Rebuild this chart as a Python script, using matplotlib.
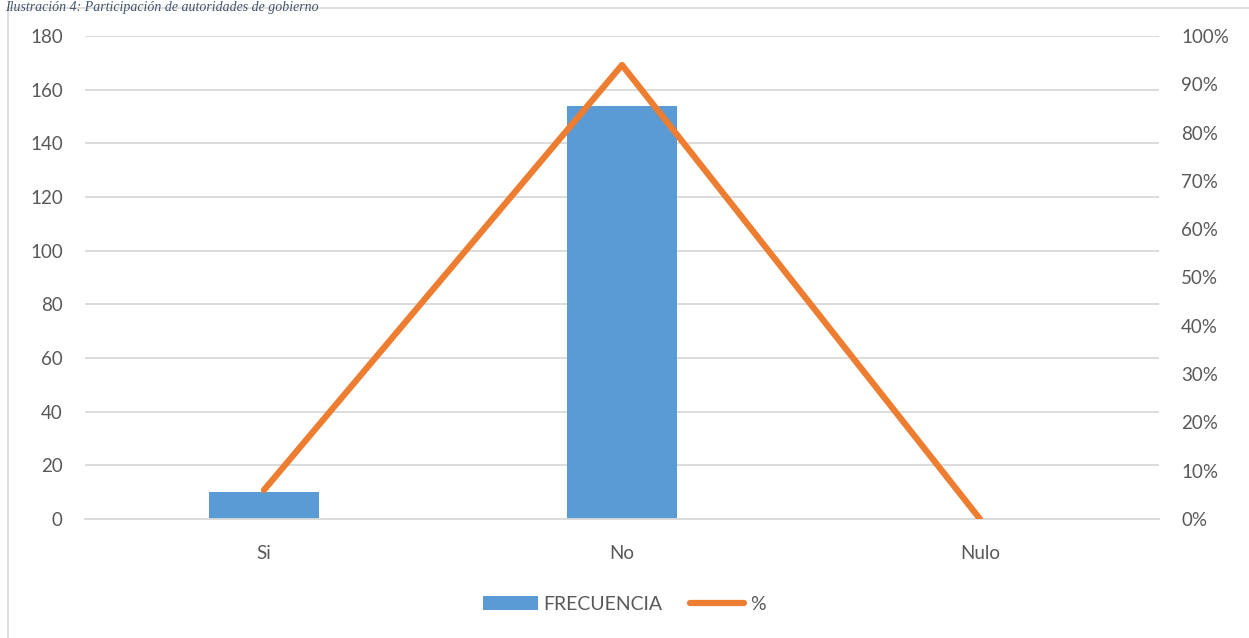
import matplotlib
matplotlib.use("Agg")
import matplotlib.pyplot as plt
from matplotlib.lines import Line2D
from matplotlib.patches import Patch

categories = ["Si", "No", "Nulo"]
frecuencia = [10, 154, 0]
porcentaje = [0.06, 0.94, 0.0]
left_ticks = [0, 20, 40, 60, 80, 100, 120, 140, 160, 180]
right_ticks = [0, 0.1, 0.2, 0.3, 0.4, 0.5, 0.6, 0.7, 0.8, 0.9, 1.0]
right_labels = ["0%", "10%", "20%", "30%", "40%", "50%", "60%", "70%", "80%", "90%", "100%"]

plt.rcParams['font.family'] = ['Lato', 'DejaVu Sans']
BLUE = "#5B9BD5"
ORANGE = "#ED7D31"
TXT = "#595959"
GRID = "#D9D9D9"
FS = 13.5

fig = plt.figure(figsize=(12.49, 6.38), dpi=100)
ax = fig.add_axes([85/1249, 1-519/638, (1159-85)/1249, (519-36)/638])

x = list(range(len(categories)))
ax.bar(x, frecuencia, width=0.31, color=BLUE, zorder=2)
ax.set_xlim(-0.5, 2.5)
ax.set_ylim(0, 180)
ax.set_yticks(left_ticks)
ax.set_yticklabels([str(t) for t in left_ticks])
ax.set_xticks(x)
ax.set_xticklabels(categories)
ax.grid(axis='y', color=GRID, linewidth=1.3, zorder=0)
ax.set_axisbelow(True)
for s in ax.spines.values():
    s.set_visible(False)
ax.spines['bottom'].set_visible(True)
ax.spines['bottom'].set_color(GRID)
ax.spines['bottom'].set_linewidth(1.3)
ax.tick_params(axis='both', length=0, labelsize=FS, colors=TXT)
ax.tick_params(axis='y', pad=16)
ax.tick_params(axis='x', pad=19)

ax2 = ax.twinx()
ax2.plot(x, porcentaje, color=ORANGE, linewidth=4.5, solid_capstyle='round', zorder=3)
ax2.set_ylim(0, 1.0)
ax2.set_yticks(right_ticks)
ax2.set_yticklabels(right_labels)
for s in ax2.spines.values():
    s.set_visible(False)
ax2.tick_params(axis='y', length=0, labelsize=FS, colors=TXT, pad=16)

handles = [Patch(facecolor=BLUE, label="FRECUENCIA"),
           Line2D([0], [0], color=ORANGE, linewidth=4.5, solid_capstyle='round', label="%")]
fig.legend(handles=handles, loc='center', bbox_to_anchor=(0.5, 1-604/638), ncol=2,
           frameon=False, fontsize=14, labelcolor=TXT, handlelength=2.8,
           handletextpad=0.3, columnspacing=1.4)

# chart border (left and top edges visible)
fig.add_artist(Line2D([8/1249, 8/1249], [0, 1-8/638], transform=fig.transFigure, color="#D9D9D9", linewidth=1.2))
fig.add_artist(Line2D([8/1249, 1], [1-8/638, 1-8/638], transform=fig.transFigure, color="#D9D9D9", linewidth=1.2))

# caption at the top edge
fig.text(0.004, 1-1/638, "Ilustración 4: Participación de autoridades de gobierno", fontsize=10,
         style='italic', color="#44546A", va='top', ha='left', family=['Liberation Serif', 'DejaVu Serif'])

fig.savefig("out.png", dpi=100)
